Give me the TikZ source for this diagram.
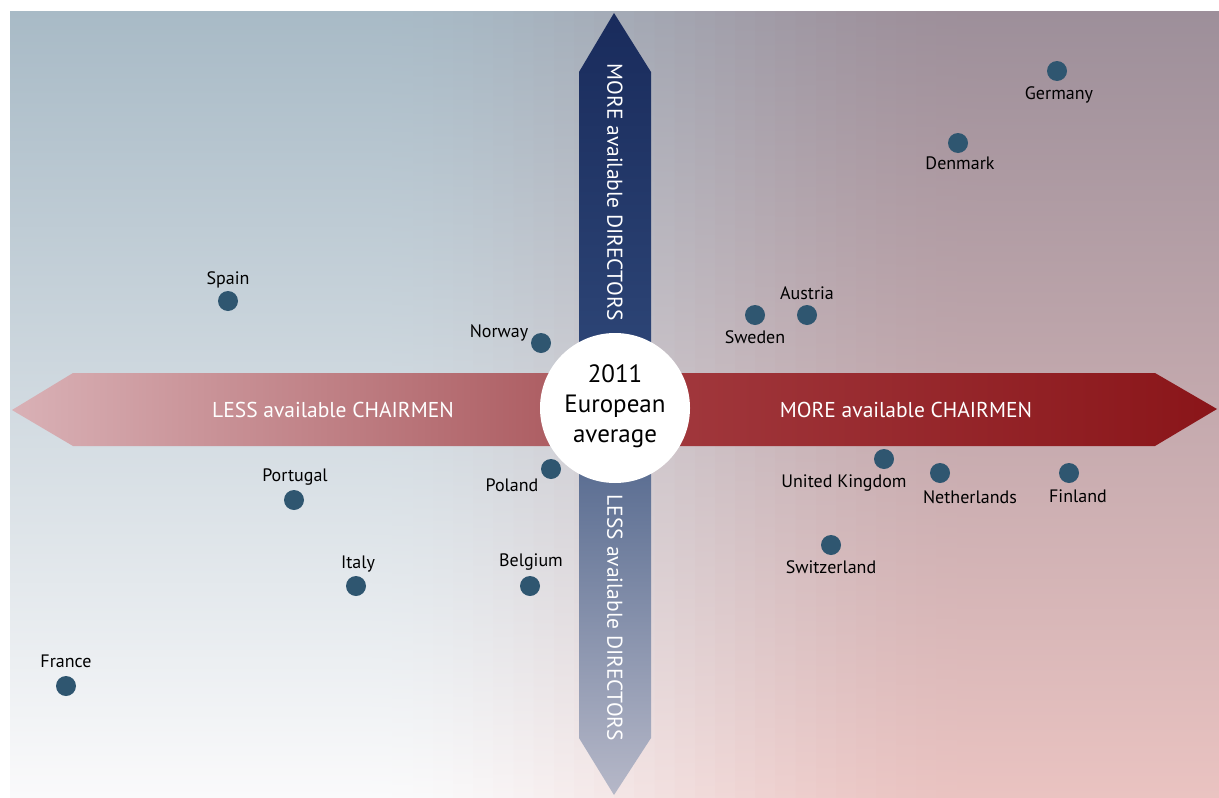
\documentclass[tikz,border=0pt]{standalone}
\usepackage{fontspec}
\setmainfont{PT Sans}
\definecolor{TL}{HTML}{A8BAC6}
\definecolor{TR}{HTML}{9D8F9A}
\definecolor{ML}{HTML}{CDD9E0}
\definecolor{MR}{HTML}{C6ABB0}
\definecolor{BL}{HTML}{FAFAFB}
\definecolor{BR}{HTML}{EAC3C1}
\definecolor{dotc}{HTML}{2F5670}
\definecolor{redA}{HTML}{D9B1B6}
\definecolor{redB}{HTML}{A85459}
\definecolor{redC}{HTML}{A33B40}
\definecolor{redD}{HTML}{8A1519}
\definecolor{blueA}{HTML}{192B5C}
\definecolor{blueB}{HTML}{30497A}
\definecolor{blueC}{HTML}{4A6088}
\definecolor{blueD}{HTML}{B6B8C8}
\tikzset{
  lbl/.style={font=\fontsize{18}{21}\selectfont, anchor=base, text=black, inner sep=0pt},
  dot/.style={circle, fill=dotc, minimum size=20pt, inner sep=0pt},
  arrtxt/.style={font=\fontsize{21.5}{24}\selectfont, text=white, inner sep=0pt},
}
\begin{document}
\begin{tikzpicture}[x=1pt,y=-1pt]
\useasboundingbox (0,0) rectangle (1219,798);
\fill[white] (0,0) rectangle (1219,798);
% background four-corner gradient
\foreach \i in {0,...,59} {
  \pgfmathsetmacro\t{max(0,min(1,((\i+0.5)/60-0.3)/0.5))}
  \pgfmathsetmacro\p{100*\t*\t*(3-2*\t)}
  \pgfmathsetmacro\xa{10+\i*20.15}
  \pgfmathsetmacro\xb{\xa+20.95}
  \shade[top color=TR!\p!TL, middle color=MR!\p!ML, bottom color=BR!\p!BL] (\xa,11) rectangle (\xb,798);
}
% horizontal arrow
\shade[left color=redA, right color=redB] (12,410) -- (73,373) -- (616,373) -- (616,446) -- (73,446) -- cycle;
\shade[left color=redC, right color=redD] (614,373) -- (1155,373) -- (1217,409) -- (1155,446) -- (614,446) -- cycle;
% vertical arrow
\shade[top color=blueA, bottom color=blueB] (614,13) -- (651,72) -- (651,410) -- (579,410) -- (579,72) -- cycle;
\shade[top color=blueC, bottom color=blueD] (579,408) -- (651,408) -- (651,738) -- (614,795) -- (579,738) -- cycle;
% arrow texts
\node[arrtxt, rotate=-90] (moredir) at (615,192) {MORE available DIRECTORS};
\node[arrtxt, rotate=-90] (lessdir) at (615,618) {LESS available DIRECTORS};
\node[arrtxt] (lesschair) at (333,410) {LESS available CHAIRMEN};
\node[arrtxt] (morechair) at (906,410) {MORE available CHAIRMEN};
% centre circle
\node[circle, fill=white, minimum size=150pt, inner sep=0pt] (avg) at (615,408) {};
\node[align=center, font=\fontsize{25}{30}\selectfont, inner sep=0pt] (avgtxt) at (615,406) {2011\\European\\average};
% countries
\node[dot] (germany) at (1057,71) {};
\node[lbl] (germanyL) at (1059,99) {Germany};
\node[dot] (denmark) at (958,143) {};
\node[lbl] (denmarkL) at (960,169) {Denmark};
\node[dot] (spain) at (228,301) {};
\node[lbl] (spainL) at (228,284) {Spain};
\node[dot] (austria) at (807,315) {};
\node[lbl] (austriaL) at (807,299) {Austria};
\node[dot] (sweden) at (755,315) {};
\node[lbl] (swedenL) at (755,343) {Sweden};
\node[dot] (norway) at (541,343) {};
\node[lbl] (norwayL) at (499,337) {Norway};
\node[dot] (portugal) at (294,500) {};
\node[lbl] (portugalL) at (295,481) {Portugal};
\node[dot] (poland) at (551,469) {};
\node[lbl] (polandL) at (512,491) {Poland};
\node[dot] (uk) at (884,459) {};
\node[lbl] (ukL) at (844,487) {United Kingdom};
\node[dot] (netherlands) at (940,473) {};
\node[lbl] (netherlandsL) at (970,503) {Netherlands};
\node[dot] (finland) at (1069,473) {};
\node[lbl] (finlandL) at (1078,502) {Finland};
\node[dot] (switzerland) at (831,545) {};
\node[lbl] (switzerlandL) at (831,573) {Switzerland};
\node[dot] (italy) at (356,586) {};
\node[lbl] (italyL) at (358,568) {Italy};
\node[dot] (belgium) at (530,586) {};
\node[lbl] (belgiumL) at (531,566) {Belgium};
\node[dot] (france) at (66,686) {};
\node[lbl] (franceL) at (66,667) {France};
\end{tikzpicture}
\end{document}
